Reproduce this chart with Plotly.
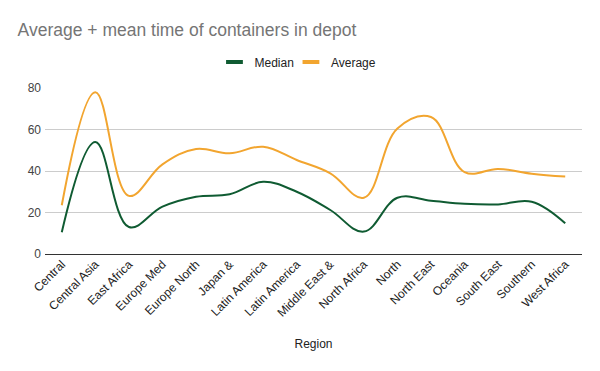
import plotly.graph_objects as go

regions = ["Central", "Central Asia", "East Africa", "Europe Med", "Europe North",
           "Japan &", "Latin America", "Latin America", "Middle East &", "North Africa",
           "North", "North East", "Oceania", "South East", "Southern", "West Africa"]
median = [10.5, 54, 13, 22.8, 27.6, 28.8, 34.8, 30, 21.2, 10.8, 27.1, 25.7, 24.2, 23.9, 25.2, 14.8]
average = [23.5, 78, 28, 43.2, 50.6, 48.5, 51.7, 45.3, 38.9, 27.1, 60.5, 66, 39.5, 41, 38.7, 37.3]
yticks = [0, 20, 40, 60, 80]

xs = list(range(len(regions)))
c_med = "#0f5b32"
c_avg = "#f2a52f"

fig = go.Figure()
fig.add_trace(go.Scatter(x=xs, y=median, name="Median", mode="lines", showlegend=False,
                         line=dict(color=c_med, width=2, shape="spline", smoothing=1.1)))
fig.add_trace(go.Scatter(x=xs, y=average, name="Average", mode="lines", showlegend=False,
                         line=dict(color=c_avg, width=2, shape="spline", smoothing=1.1)))
# legend entries (short thick bars like the reference), one legend each
for name, col, lg in [("Median", c_med, "legend"), ("Average", c_avg, "legend2")]:
    fig.add_trace(go.Scatter(x=[None], y=[None], name=name, mode="markers", legend=lg,
                             marker=dict(symbol="line-ew", size=12,
                                         line=dict(color=col, width=4))))

legend_style = dict(orientation="h", xanchor="left", y=1.157, yanchor="middle",
                    font=dict(size=12, color="#222222"), bgcolor="rgba(0,0,0,0)")

# the page adds an 8px body margin, so the figure is 8px smaller each way
fig.update_layout(
    width=592, height=363,
    margin=dict(l=37, r=18, t=80, b=117, autoexpand=False),
    paper_bgcolor="white", plot_bgcolor="white",
    font=dict(family="Liberation Sans, Arial, sans-serif", size=12, color="#222222"),
    title=dict(text="Average + mean time of containers in depot", x=0.0162, xanchor="left",
               y=0.939, yanchor="middle",
               font=dict(size=17.5, color="#757575")),
    legend=dict(x=0.3156, **legend_style),
    legend2=dict(x=0.458, **legend_style),
    xaxis=dict(tickmode="array", tickvals=xs, ticktext=regions, tickangle=-45,
               range=[-0.5, len(regions) - 0.5], showgrid=False, zeroline=False,
               showline=False, ticks="", automargin=False,
               title=dict(text="Region", font=dict(size=12, color="#222222"), standoff=20)),
    yaxis=dict(range=[0, 80], tickvals=yticks, showgrid=True, gridcolor="#cccccc",
               zeroline=True, zerolinecolor="#333333", zerolinewidth=1.3, ticks="",
               ticklabelstandoff=3,
               automargin=False, tickfont=dict(size=12, color="#444444")),
)

fig.write_html("out.html")
